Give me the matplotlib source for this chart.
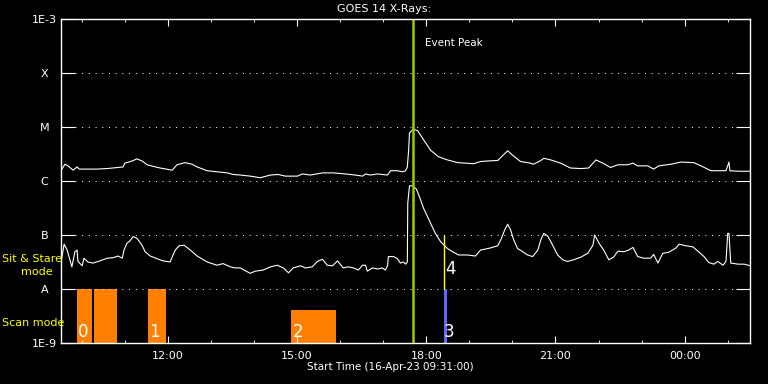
import matplotlib
matplotlib.use('Agg')
import matplotlib.pyplot as plt
from matplotlib.ticker import NullLocator, MultipleLocator
import numpy as np

# times in decimal hours (past 24 = next day), flux as log10(W/m^2)
long_t = [9.52, 9.61, 9.68, 9.80, 9.89, 9.94, 10.19, 10.35, 10.59, 10.96, 11.00, 11.17, 11.28, 11.40,
          11.52, 11.66, 11.82, 12.10, 12.21, 12.40, 12.56, 12.68, 12.91, 13.14, 13.38, 13.52, 13.68,
          13.91, 14.14, 14.38, 14.56, 14.73, 15.01, 15.12, 15.31, 15.59, 15.84, 16.12, 16.35, 16.52,
          16.59, 16.70, 16.87, 17.10, 17.17, 17.33, 17.45, 17.52, 17.56, 17.59, 17.61, 17.70, 17.80,
          17.94, 18.10, 18.28, 18.49, 18.73, 19.10, 19.26, 19.42, 19.66, 19.80, 19.89, 20.00, 20.19,
          20.42, 20.49, 20.66, 20.73, 20.89, 21.12, 21.35, 21.59, 21.77, 21.94, 22.10, 22.28, 22.45,
          22.68, 22.80, 22.91, 23.14, 23.28, 23.40, 23.68, 23.91, 24.21, 24.38, 24.61, 24.77, 24.96,
          25.03, 25.05, 25.26, 25.52]
long_flux = [-5.80, -5.69, -5.72, -5.80, -5.74, -5.78, -5.78, -5.78, -5.77, -5.74, -5.67, -5.63, -5.59, -5.63,
             -5.70, -5.73, -5.76, -5.80, -5.70, -5.66, -5.69, -5.74, -5.81, -5.83, -5.85, -5.88, -5.89,
             -5.91, -5.94, -5.89, -5.88, -5.91, -5.91, -5.87, -5.89, -5.85, -5.85, -5.87, -5.89, -5.91,
             -5.87, -5.89, -5.87, -5.89, -5.81, -5.81, -5.83, -5.81, -5.74, -5.43, -5.11, -5.04, -5.07,
             -5.24, -5.43, -5.55, -5.61, -5.66, -5.68, -5.64, -5.63, -5.62, -5.51, -5.44, -5.52, -5.64,
             -5.67, -5.69, -5.62, -5.58, -5.61, -5.67, -5.76, -5.77, -5.76, -5.61, -5.67, -5.75, -5.70,
             -5.70, -5.67, -5.72, -5.72, -5.78, -5.72, -5.69, -5.65, -5.66, -5.72, -5.81, -5.81, -5.81,
             -5.65, -5.81, -5.82, -5.82]

short_t = [9.52, 9.59, 9.66, 9.77, 9.84, 9.89, 9.91, 10.01, 10.05, 10.14, 10.26, 10.42, 10.59, 10.73,
           10.84, 10.94, 10.98, 11.05, 11.12, 11.19, 11.28, 11.40, 11.47, 11.59, 11.75, 11.89, 12.05,
           12.17, 12.26, 12.38, 12.52, 12.68, 12.91, 13.14, 13.28, 13.45, 13.56, 13.68, 13.91, 14.03,
           14.21, 14.38, 14.54, 14.68, 14.80, 14.91, 15.08, 15.19, 15.35, 15.47, 15.59, 15.70, 15.82,
           15.94, 16.07, 16.19, 16.31, 16.42, 16.52, 16.59, 16.63, 16.75, 16.87, 16.98, 17.05, 17.10,
           17.12, 17.24, 17.33, 17.40, 17.47, 17.52, 17.56, 17.57, 17.61, 17.68, 17.77, 17.84, 17.94,
           18.10, 18.21, 18.33, 18.49, 18.61, 18.75, 18.96, 19.14, 19.26, 19.49, 19.66, 19.73, 19.82,
           19.89, 19.96, 20.03, 20.12, 20.24, 20.35, 20.47, 20.59, 20.66, 20.73, 20.82, 20.89, 21.05,
           21.17, 21.28, 21.42, 21.59, 21.75, 21.87, 21.91, 22.01, 22.12, 22.24, 22.35, 22.45, 22.59,
           22.70, 22.80, 22.91, 23.05, 23.21, 23.28, 23.38, 23.49, 23.63, 23.80, 23.87, 24.03, 24.19,
           24.31, 24.45, 24.56, 24.68, 24.77, 24.89, 24.96, 25.00, 25.03, 25.07, 25.24, 25.38, 25.52]
short_flux = [-7.50, -7.17, -7.28, -7.59, -7.31, -7.28, -7.49, -7.57, -7.43, -7.50, -7.52, -7.48, -7.43, -7.42,
              -7.39, -7.43, -7.28, -7.15, -7.11, -7.03, -7.06, -7.19, -7.31, -7.39, -7.44, -7.48, -7.50,
              -7.28, -7.20, -7.19, -7.28, -7.39, -7.50, -7.56, -7.53, -7.59, -7.61, -7.61, -7.71, -7.67,
              -7.65, -7.59, -7.56, -7.61, -7.70, -7.61, -7.57, -7.61, -7.59, -7.49, -7.45, -7.56, -7.57,
              -7.48, -7.61, -7.59, -7.61, -7.65, -7.56, -7.56, -7.67, -7.61, -7.63, -7.61, -7.65, -7.57,
              -7.40, -7.40, -7.44, -7.52, -7.50, -7.54, -7.50, -6.41, -6.09, -6.09, -6.15, -6.29, -6.51,
              -6.78, -6.97, -7.12, -7.25, -7.31, -7.37, -7.37, -7.39, -7.28, -7.24, -7.20, -7.09, -6.91,
              -6.80, -6.91, -7.09, -7.25, -7.31, -7.37, -7.40, -7.28, -7.09, -6.97, -7.02, -7.12, -7.37,
              -7.46, -7.49, -7.46, -7.41, -7.34, -7.19, -7.00, -7.15, -7.28, -7.46, -7.41, -7.30, -7.31,
              -7.28, -7.23, -7.40, -7.43, -7.43, -7.36, -7.52, -7.34, -7.32, -7.24, -7.17, -7.20, -7.22,
              -7.30, -7.40, -7.51, -7.54, -7.49, -7.56, -7.49, -6.97, -6.97, -7.52, -7.54, -7.54, -7.57]

# scan mode blocks
scan_start = [9.89, 10.28, 11.54, 14.87]
scan_end = [10.24, 10.82, 11.96, 15.91]
scan_top = [1e-8, 1e-8, 1e-8, 4.1e-9]
scan_label = ['0', None, '1', '2']

# events 3 (scan) and 4 (sit & stare)
ev3_t = 18.40
ev4_t = 18.42
peak_t = 17.70

fig = plt.figure(figsize=(7.68, 3.84), dpi=100, facecolor='black')
ax = fig.add_axes([0.0794, 0.1068, 0.8971, 0.8438], facecolor='black')
ax.set_yscale('log')
ax.set_xlim(9.5167, 25.5167)
ax.set_ylim(1e-9, 1e-3)

# dotted level lines
for lev in [1e-8, 1e-7, 1e-6, 1e-5, 1e-4]:
    ax.axhline(lev, xmin=0.02, xmax=0.98, color='white', lw=0.72, linestyle=(0, (1, 5.7)))

ax.plot(long_t, 10 ** np.array(long_flux), color='white', lw=0.8)
ax.plot(short_t, 10 ** np.array(short_flux), color='white', lw=0.8)

for s, e, top, lab in zip(scan_start, scan_end, scan_top, scan_label):
    ax.bar(s, top - 1e-9, width=e - s, bottom=1e-9, align='edge', color='#ff8000', lw=0)
    if lab:
        ax.text(s + 0.03, 1.1e-9, lab, color='white', fontsize=12, ha='left', va='bottom')

ax.bar(ev3_t, 1e-8 - 1e-9, width=0.08, bottom=1e-9, align='edge', color='#6464ff', lw=0)
ax.text(ev3_t, 1.1e-9, '3', color='white', fontsize=12, ha='left', va='bottom')
ax.vlines(ev4_t, 1e-8, 1e-7, color='#ffff00', lw=1)
ax.text(ev4_t + 0.01, 1.6e-8, '4', color='white', fontsize=12, ha='left', va='bottom')

ax.axvline(peak_t, color='#9acd00', lw=1.8)
ax.text(17.98, 10 ** -3.44, 'Event Peak', color='white', fontsize=7.5, ha='left', va='center')

ax.set_xticks([12, 15, 18, 21, 24])
ax.set_xticklabels(['12:00', '15:00', '18:00', '21:00', '00:00'])
ax.xaxis.set_minor_locator(MultipleLocator(1))
ax.tick_params(axis='x', which='major', direction='in', length=5, top=True, color='white',
               labelcolor='white', labelsize=8, pad=6)
ax.tick_params(axis='x', which='minor', direction='in', length=2.3, top=True, color='white')

ax.set_yticks([1e-9, 1e-8, 1e-7, 1e-6, 1e-5, 1e-4, 1e-3])
ax.set_yticklabels(['1E-9', 'A', 'B', 'C', 'M', 'X', '1E-3'])
ax.yaxis.set_minor_locator(NullLocator())
ax.tick_params(axis='y', which='major', direction='in', length=10, right=True, color='white',
               labelcolor='white', labelsize=8, pad=12)
for lab in ax.get_yticklabels():
    lab.set_ha('center')

for sp in ax.spines.values():
    sp.set_color('white')
    sp.set_linewidth(1)

fig.text(0.5, 0.977, 'GOES 14 X-Rays:', color='white', fontsize=8, ha='center', va='center')
fig.text(0.508, 0.044, 'Start Time (16-Apr-23 09:31:00)', color='white', fontsize=7.5,
         ha='center', va='center')
fig.text(0.003, 0.326, 'Sit & Stare', color='#ffff00', fontsize=8, ha='left', va='center')
fig.text(0.048, 0.292, 'mode', color='#ffff00', fontsize=8, ha='center', va='center')
fig.text(0.003, 0.159, 'Scan mode', color='#ffff00', fontsize=8, ha='left', va='center')

fig.savefig('out.png', dpi=100, facecolor='black')
